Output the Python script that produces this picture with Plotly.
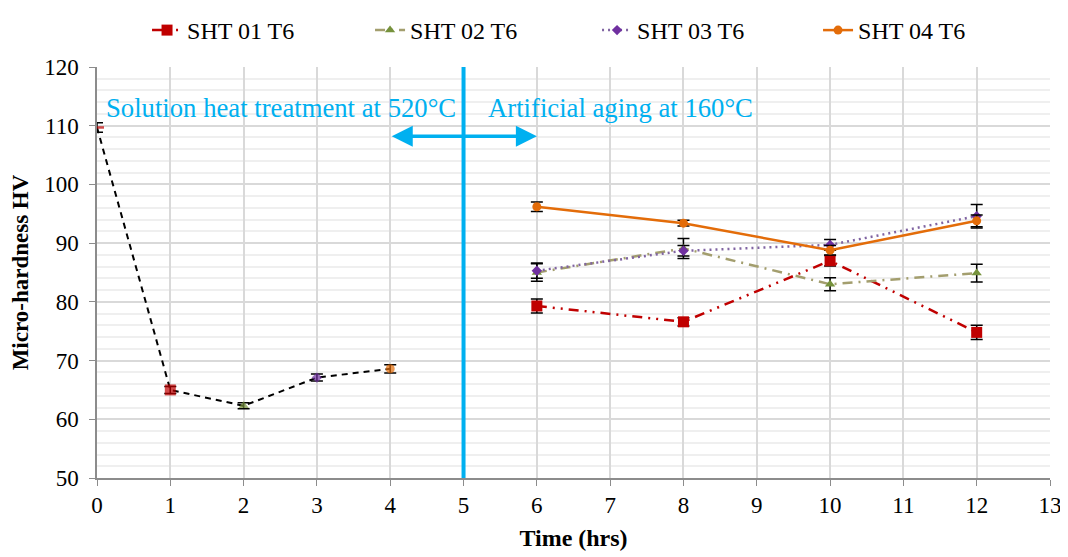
import plotly.graph_objects as go

# ---- data ----
sht_time = [0, 1, 2, 3, 4]
sht_hv = [109.7, 65.0, 62.3, 67.1, 68.6]
sht_err = [0.8, 0.6, 0.5, 0.6, 0.7]

age_time = [6, 8, 10, 12]
sht01 = [79.3, 76.6, 87.0, 74.8]
sht01_err = [1.2, 0.7, 0.9, 1.2]
sht02 = [85.0, 89.1, 83.0, 84.9]
sht02_err = [1.5, 1.7, 1.1, 1.5]
sht03 = [85.3, 88.7, 89.7, 94.6]
sht03_err = [1.3, 0.9, 0.9, 2.0]
sht04 = [96.2, 93.4, 88.8, 93.8]
sht04_err = [0.8, 0.5, 0.8, 1.0]

names = ["SHT 01 T6", "SHT 02 T6", "SHT 03 T6", "SHT 04 T6"]
x_ticks = list(range(0, 14))
y_ticks = list(range(50, 121, 10))

FONT = "Liberation Serif"
CYAN = "#00B0F0"

fig = go.Figure()

err_style = dict(type="data", color="black", thickness=1.5, width=6)

# solution heat treatment (no legend)
fig.add_trace(go.Scatter(
    x=sht_time, y=sht_hv, mode="lines+markers", showlegend=False,
    line=dict(color="black", width=2, dash="6px,5px"),
    marker=dict(symbol=["line-ew", "square", "triangle-up", "diamond", "circle"],
                color=["#C00000", "#C00000", "#76923C", "#7030A0", "#E36C09"],
                size=[10, 11, 9, 8, 9],
                line=dict(color="#C00000", width=[2.5, 0, 0, 0, 0])),
    error_y=dict(array=sht_err, **err_style),
))

series = [
    (sht01, sht01_err, "#C00000", "10px,6px,2px,6px,2px,6px", "square", 11, "#C00000"),
    (sht02, sht02_err, "#A39E6E", "10px,6px,2px,6px", "triangle-up", 9, "#76923C"),
    (sht03, sht03_err, "#8064A2", "2px,4px", "diamond", 8, "#7030A0"),
    (sht04, sht04_err, "#E36C09", "solid", "circle", 9, "#E36C09"),
]
legend_ids = ["legend", "legend2", "legend3", "legend4"]
for name, lid, (vals, errs, lc, dash, sym, ms, mc) in zip(names, legend_ids, series):
    fig.add_trace(go.Scatter(
        x=age_time, y=vals, name=name, mode="lines+markers", legend=lid,
        line=dict(color=lc, width=2.5, dash=dash),
        marker=dict(symbol=sym, size=ms, color=mc),
        error_y=dict(array=errs, **err_style),
    ))

# vertical separator at 5 h
fig.add_shape(type="line", x0=5, x1=5, y0=50, y1=120, xref="x", yref="y",
              line=dict(color=CYAN, width=4))

# double-headed arrow
fig.add_annotation(x=6, y=108.2, ax=4, ay=108.2, xref="x", yref="y",
                   axref="x", ayref="y", text="", showarrow=True,
                   arrowhead=2, startarrowhead=2, arrowside="end+start",
                   arrowsize=1.2, arrowwidth=3.5, arrowcolor=CYAN)

fig.add_annotation(x=0.1, y=113.1, xref="x", yref="y", xanchor="left",
                   text="Solution heat treatment at 520°C", showarrow=False,
                   font=dict(family=FONT, size=26.7, color=CYAN))
fig.add_annotation(x=5.31, y=113.1, xref="x", yref="y", xanchor="left",
                   text="Artificial aging at 160°C", showarrow=False,
                   font=dict(family=FONT, size=26.7, color=CYAN))

fig.update_xaxes(range=[0, 13], tickvals=x_ticks, ticktext=[str(v) for v in x_ticks],
                 showgrid=True, gridcolor="#d9d9d9", gridwidth=1.5,
                 showline=True, linecolor="#8c8c8c", linewidth=1.5,
                 ticks="outside", ticklen=6, tickcolor="#8c8c8c",
                 tickfont=dict(family=FONT, size=23, color="black"),
                 title=dict(text="<b>Time (hrs)</b>", font=dict(family=FONT, size=24, color="black"),
                            standoff=12),
                 zeroline=False, automargin=False)
fig.update_yaxes(range=[50, 120], tickvals=y_ticks,
                 showgrid=True, gridcolor="#d9d9d9", gridwidth=1.5,
                 minor=dict(dtick=2, showgrid=True, gridcolor="#efefef", gridwidth=1.5),
                 showline=True, linecolor="#8c8c8c", linewidth=1.5,
                 ticks="outside", ticklen=6, tickcolor="#8c8c8c", ticklabelstandoff=6,
                 tickfont=dict(family=FONT, size=23, color="black"),
                 title=dict(text="<b>Micro-hardness HV</b>", font=dict(family=FONT, size=23, color="black"),
                            standoff=14),
                 zeroline=False, automargin=False)

legend_x = [0.0525, 0.2865, 0.5247, 0.7566]
leg_common = dict(orientation="h", xanchor="left", y=1.0, yanchor="top", yref="container",
                  font=dict(family=FONT, size=24, color="black"), bgcolor="rgba(0,0,0,0)")

fig.update_layout(
    width=1060, height=549,
    margin=dict(l=89, r=18, t=59, b=79, autoexpand=False),
    plot_bgcolor="white", paper_bgcolor="white",
    font=dict(family=FONT, size=22, color="black"),
    legend=dict(x=legend_x[0], **leg_common),
    legend2=dict(x=legend_x[1], **leg_common),
    legend3=dict(x=legend_x[2], **leg_common),
    legend4=dict(x=legend_x[3], **leg_common),
)

fig.write_html("out.html")
